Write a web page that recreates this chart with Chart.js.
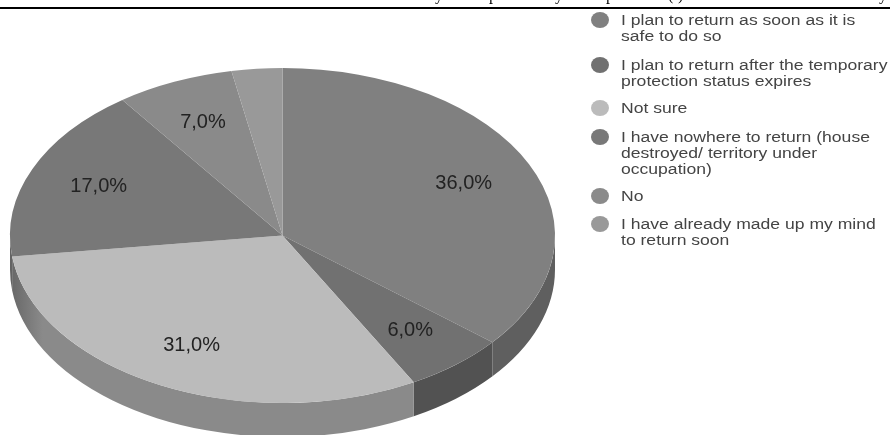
<!DOCTYPE html>
<html>
<head>
<meta charset="utf-8">
<title>Return plans</title>
<script src="https://cdn.jsdelivr.net/npm/chart.js@4"></script>
<style>
    html, body { margin: 0; padding: 0; background: #fff; overflow: hidden; }
    #wrap { position: relative; width: 890px; height: 435px; overflow: hidden; }
    #pieChart { position: absolute; left: 0; top: 0; }
    #rule { position: absolute; left: 0; top: 7px; width: 890px; height: 2px; background: #000; }
    #cutText { position: absolute; left: 0; top: 0; width: 890px; height: 7px; overflow: hidden; }
    #cutText span { position: absolute; top: -13px; font: 16px/16px "Liberation Serif", serif; color: #000; }
    #legend { position: absolute; left: 0; top: 0; font: 15.5px/16px "Liberation Sans", Arial, sans-serif; color: #444; }
    /* the picture is stretched sideways, the legend text too */
    #legend .item { position: absolute; left: 621px; white-space: nowrap; transform: scaleX(1.133); transform-origin: left top; }
    #legend .dot { position: absolute; left: 591px; width: 18px; height: 16px; border-radius: 50%; }
</style>
</head>
<body>
<div id="wrap">
    <canvas id="pieChart" width="890" height="435"></canvas>
    <div id="cutText"></div>
    <div id="rule"></div>
    <div id="legend"></div>
</div>
<script>
const categories = [
    ['I plan to return as soon as it is', 'safe to do so'],
    ['I plan to return after the temporary', 'protection status expires'],
    ['Not sure'],
    ['I have nowhere to return (house', 'destroyed/ territory under', 'occupation)'],
    ['No'],
    ['I have already made up my mind', 'to return soon']
];
const shares = [36, 6, 31, 17, 7, 3];
const topColors = ['#808080', '#717171', '#bbbbbb', '#787878', '#8a8a8a', '#999999'];
const sideColors = ['#5f5f5f', '#525252', '#8a8a8a', '#636363', '#6a6a6a', '#777777'];
const legendTops = [12, 57, 100, 129, 188, 216];
const cutGlyphs = ['y', 'p', 'y', 'p', '(', ')', 'y'];
const cutGlyphLefts = [435, 489, 555, 606, 668, 678, 879];

const smallestLabel = 5;   // the 3% slice has no label in the picture
const tiltX = 272.5 / 167.5;
const depth = 34;

// chart.js only draws round pies, so stretch the drawing sideways around the centre
function stretch(chart, ctx) {
    const arc = chart.getDatasetMeta(0).data[0];
    ctx.translate(arc.x, 0);
    ctx.scale(tiltX, 1);
    ctx.translate(-arc.x, 0);
}

// wall of the big light slice gets darker towards the left edge
function wallFill(ctx, arc, i) {
    if (i !== 2) return sideColors[i];
    const g = ctx.createLinearGradient(arc.x - arc.outerRadius, 0, arc.x - arc.outerRadius * 0.88, 0);
    g.addColorStop(0, '#666666');
    g.addColorStop(1, sideColors[i]);
    return g;
}

const pie3d = {
    id: 'pie3d',
    beforeDatasetsDraw(chart) {
        const ctx = chart.ctx;
        ctx.save();
        stretch(chart, ctx);
        // side wall, only the front half of the rim can be seen
        chart.getDatasetMeta(0).data.forEach((arc, i) => {
            const from = Math.max(arc.startAngle, 0);
            const to = Math.min(arc.endAngle, Math.PI);
            if (to <= from) return;
            ctx.beginPath();
            ctx.arc(arc.x, arc.y + depth, arc.outerRadius, from, to);
            ctx.arc(arc.x, arc.y, arc.outerRadius, to, from, true);
            ctx.closePath();
            ctx.fillStyle = wallFill(ctx, arc, i);
            ctx.fill();
        });
    },
    afterDatasetsDraw(chart) {
        const ctx = chart.ctx;
        ctx.restore();
        // percent labels
        ctx.save();
        ctx.font = '20px "Liberation Sans", Arial, sans-serif';
        ctx.fillStyle = '#222';
        ctx.textAlign = 'center';
        ctx.textBaseline = 'middle';
        chart.getDatasetMeta(0).data.forEach((arc, i) => {
            if (shares[i] < smallestLabel) return;
            const mid = (arc.startAngle + arc.endAngle) / 2;
            const r = arc.outerRadius * 0.735;
            const x = arc.x + Math.cos(mid) * r * tiltX;
            const y = arc.y + Math.sin(mid) * r;
            ctx.fillText(shares[i].toFixed(1).replace('.', ',') + '%', x, y);
        });
        ctx.restore();
    }
};

new Chart(document.getElementById('pieChart').getContext('2d'), {
    type: 'pie',
    data: {
        labels: categories.map(c => c.join(' ')),
        datasets: [{
            data: shares,
            backgroundColor: topColors,
            borderWidth: 0,
            clip: false
        }]
    },
    options: {
        responsive: false,
        animation: false,
        layout: { padding: { left: 115, right: 440, top: 68, bottom: 32 } },
        plugins: {
            legend: { display: false },
            tooltip: { enabled: false }
        }
    },
    plugins: [pie3d]
});

// legend
const legend = document.getElementById('legend');
categories.forEach((lines, i) => {
    const dot = document.createElement('div');
    dot.className = 'dot';
    dot.style.top = legendTops[i] + 'px';
    dot.style.background = topColors[i];
    legend.appendChild(dot);

    const item = document.createElement('div');
    item.className = 'item';
    item.style.top = legendTops[i] + 'px';
    item.innerHTML = lines.join('<br>');
    legend.appendChild(item);
});

// tail ends of the text line above the rule, cut off in the picture
const cutText = document.getElementById('cutText');
cutGlyphs.forEach((g, i) => {
    const span = document.createElement('span');
    span.textContent = g;
    span.style.left = cutGlyphLefts[i] + 'px';
    cutText.appendChild(span);
});
</script>
</body>
</html>
